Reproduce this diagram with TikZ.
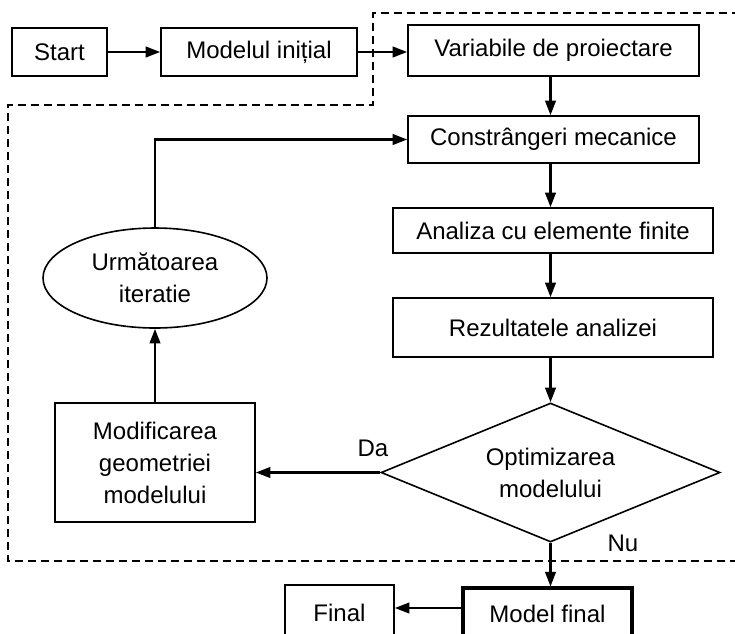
\documentclass[tikz,border=0pt]{standalone}
\usepackage{fontspec}
\setmainfont{Liberation Sans}
\usetikzlibrary{shapes.geometric,arrows.meta}
\begin{document}
\begin{tikzpicture}[x=0.75pt,y=-0.75pt,
  every node/.style={font=\fontsize{18}{24}\selectfont, align=center, inner sep=0pt},
  box/.style={draw, line width=1.2pt, rectangle},
  thickbox/.style={draw, line width=2.3pt, rectangle},
  conn/.style={line width=1.7pt, -{Triangle[length=11pt,width=8pt]}},
  frame/.style={line width=1.1pt, dash pattern=on 6pt off 3.75pt},
  lbl/.style={font=\fontsize{18}{24}\selectfont}]
\useasboundingbox (0,0) rectangle (735,633);
\clip (0,0) rectangle (735,633);
% nodes
\node[box, minimum width=95*0.75pt, minimum height=48*0.75pt] (start) at (59.5,52) {Start};
\node[box, minimum width=196*0.75pt, minimum height=48*0.75pt] (model) at (259,52) {Modelul inițial};
\node[box, minimum width=291*0.75pt, minimum height=51*0.75pt] (var) at (553.5,50.5) {Variabile de proiectare};
\node[box, minimum width=291*0.75pt, minimum height=47*0.75pt] (con) at (553.5,139.5) {Constrângeri mecanice};
\node[box, minimum width=320*0.75pt, minimum height=45*0.75pt] (ana) at (553,230.5) {Analiza cu elemente finite};
\node[box, minimum width=320*0.75pt, minimum height=59*0.75pt] (rez) at (553,327.5) {Rezultatele analizei};
\node[draw, line width=1.2pt, diamond, shape aspect=2.44, minimum width=339*0.75pt, minimum height=139*0.75pt] (opt) at (550.5,472.5) {Optimizarea\\modelului};
\node[box, minimum width=200*0.75pt, minimum height=119*0.75pt] (mod) at (155,462.5) {Modificarea\\geometriei\\modelului};
\node[draw, line width=1.2pt, ellipse, minimum width=224*0.75pt, minimum height=100*0.75pt] (ell) at (155,278) {Următoarea\\iteratie};
\node[thickbox, minimum width=169*0.75pt, minimum height=52*0.75pt] (mf) at (547.5,614) {Model final};
\node[box, minimum width=109*0.75pt, minimum height=56*0.75pt] (fin) at (339.5,613) {Final};
% labels
\node[lbl] (da) at (373,448) {Da};
\node[lbl] (nu) at (623,543) {Nu};
% frame
\coordinate (f1) at (373,13);
\coordinate (f2) at (740,13);
\coordinate (f3) at (373,105);
\coordinate (f4) at (8,105);
\coordinate (f5) at (8,561);
\coordinate (f6) at (740,561);
\draw[frame] (f2) -- (f1) -- (f3) -- (f4) -- (f5) -- (f6);
% connectors
\draw[conn] (start) -- (model);
\draw[conn] (model.east) -- (var.west |- model.east);
\draw[conn] (var.south -| opt.north) -- (con.north -| opt.north);
\draw[conn] (con.south -| opt.north) -- (ana.north -| opt.north);
\draw[conn] (ana.south -| opt.north) -- (rez.north -| opt.north);
\draw[conn] (rez.south -| opt.north) -- (opt.north);
\draw[conn] (opt.west) -- (mod.east |- opt.west);
\draw[conn] (mod.north) -- (ell.south);
\draw[conn] (ell.north) |- (con.west);
\draw[conn] (opt.south) -- (mf.north -| opt.south);
\draw[conn] (mf.west |- 0,608) -- (fin.east |- 0,608);
\end{tikzpicture}
\end{document}
